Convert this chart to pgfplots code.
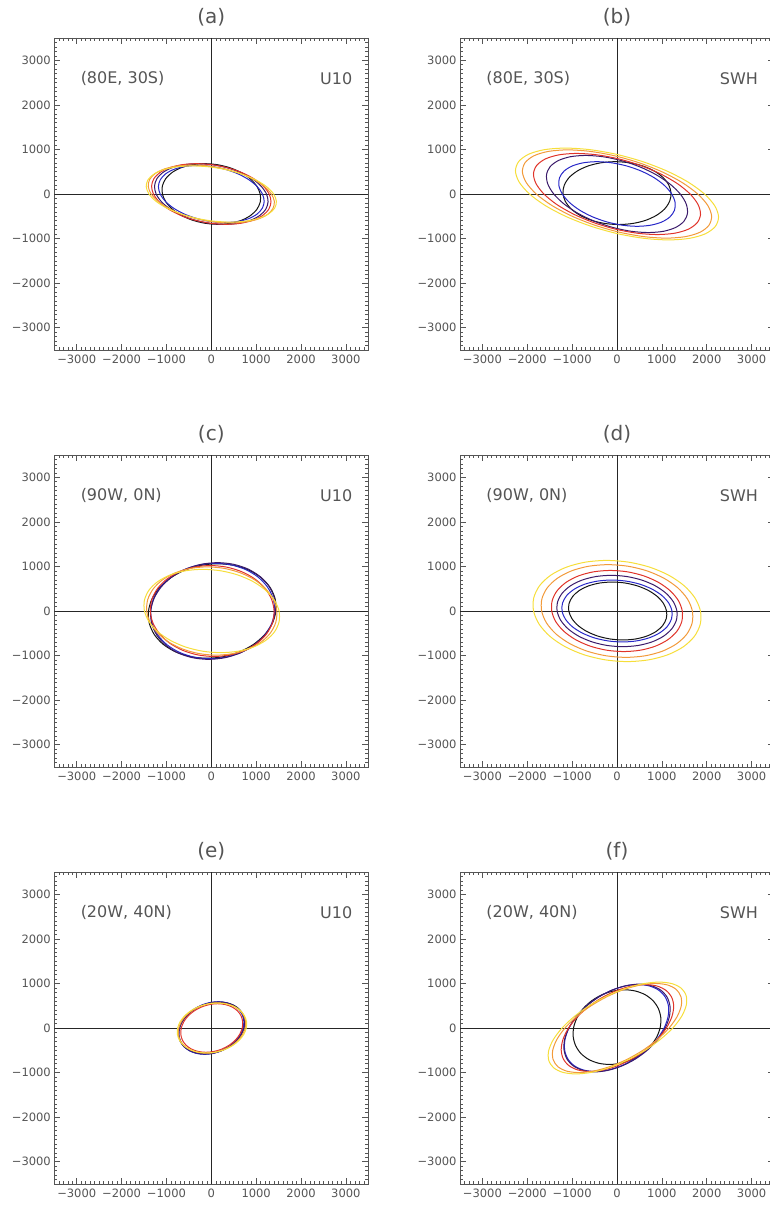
\documentclass[border=0pt]{standalone}
\usepackage{fontspec}
\setmainfont{DejaVu Sans}
\usepackage{pgfplots}
\pgfplotsset{compat=1.18}

\definecolor{gc}{HTML}{555555}
\definecolor{cblack}{HTML}{151515}
\definecolor{cblue}{HTML}{2828C8}
\definecolor{cpurple}{HTML}{3A1A6A}
\definecolor{cred}{HTML}{E0342A}
\definecolor{corange}{HTML}{F29A3A}
\definecolor{cyellow}{HTML}{F6DE3A}

\pgfplotsset{
  panel/.style={
    scale only axis, width=314pt, height=312pt,
    anchor=north west,
    xmin=-3500, xmax=3500, ymin=-3500, ymax=3500,
    xtick={-3000,-2000,...,3000}, ytick={-3000,-2000,...,3000},
    xticklabels={−3000,−2000,−1000,0,1000,2000,3000},
    yticklabels={−3000,−2000,−1000,0,1000,2000,3000},
    minor xtick={-3500,-3400,...,3500}, minor ytick={-3500,-3400,...,3500},
    tick align=inside, major tick length=6pt, minor tick length=3pt,
    tick style={gc, line width=0.5pt},
    axis line style={gc, line width=0.9pt},
    tick label style={font=\fontsize{11.5}{12}\selectfont, text=gc},
    xticklabel shift=1pt,
    title style={font=\fontsize{20}{22}\selectfont, text=gc, yshift=2pt},
  },
  ell/.style={smooth cycle, line width=1pt, mark=none},
  zero/.style={black!85, line width=0.7pt, mark=none, forget plot},
}
\newcommand\loc[1]{\node[anchor=west, text=gc, font=\fontsize{16}{18}\selectfont] at (rel axis cs:0.073,0.869) {#1};}
\newcommand\vname[1]{\node[anchor=east, text=gc, font=\fontsize{16}{18}\selectfont] at (rel axis cs:0.96,0.869) {#1};}
\newcommand\zerolines{%
  \addplot[zero] coordinates {(-3500,0) (3500,0)};
  \addplot[zero] coordinates {(0,-3500) (0,3500)};}

\begin{document}
\begin{tikzpicture}
% (a)
\begin{axis}[panel, at={(54.3pt,-38pt)}, title={(a)}]
\zerolines
\addplot[ell,cblack] coordinates {(1090,0)(1014,176)(869,340)(665,481)(415,589)(137,657)(-150,680)(-427,657)(-675,589)(-877,481)(-1019,340)(-1092,176)
 (-1090,0)(-1014,-176)(-869,-340)(-665,-481)(-415,-589)(-137,-657)(150,-680)(427,-657)(675,-589)(877,-481)(1019,-340)(1092,-176)};
\addplot[ell,cblue] coordinates {(1140,0)(1024,166)(837,320)(594,453)(310,554)(5,618)(-300,640)(-585,618)(-830,554)(-1018,453)(-1137,320)(-1179,166)
 (-1140,0)(-1024,-166)(-837,-320)(-594,-453)(-310,-554)(-5,-618)(300,-640)(585,-618)(830,-554)(1018,-453)(1137,-320)(1179,-166)};
\addplot[ell,cpurple] coordinates {(1230,0)(1110,176)(915,340)(658,481)(355,589)(29,657)(-300,680)(-608,657)(-875,589)(-1082,481)(-1215,340)(-1266,176)
 (-1230,0)(-1110,-176)(-915,-340)(-658,-481)(-355,-589)(-29,-657)(300,-680)(608,-657)(875,-589)(1082,-481)(1215,-340)(1266,-176)};
\addplot[ell,cred] coordinates {(1290,0)(1161,176)(952,340)(679,481)(359,589)(15,657)(-330,680)(-653,657)(-931,589)(-1146,481)(-1282,340)(-1331,176)
 (-1290,0)(-1161,-176)(-952,-340)(-679,-481)(-359,-589)(-15,-657)(330,-680)(653,-657)(931,-589)(1146,-481)(1282,-340)(1331,-176)};
\addplot[ell,corange] coordinates {(1340,0)(1183,168)(945,325)(643,460)(298,563)(-69,628)(-430,650)(-762,628)(-1042,563)(-1252,460)(-1375,325)(-1406,168)
 (-1340,0)(-1183,-168)(-945,-325)(-643,-460)(-298,-563)(69,-628)(430,-650)(762,-628)(1042,-563)(1252,-460)(1375,-325)(1406,-168)};
\addplot[ell,cyellow] coordinates {(1390,0)(1234,163)(994,315)(686,445)(331,546)(-46,609)(-420,630)(-765,609)(-1059,546)(-1280,445)(-1414,315)(-1451,163)
 (-1390,0)(-1234,-163)(-994,-315)(-686,-445)(-331,-546)(46,-609)(420,-630)(765,-609)(1059,-546)(1280,-445)(1414,-315)(1451,-163)};
\loc{(80E, 30S)}\vname{U10}
\end{axis}
% (b)
\begin{axis}[panel, at={(460pt,-38pt)}, title={(b)}]
\zerolines
\addplot[ell,cblack] coordinates {(1205,20)(1154,202)(1024,373)(824,519)(568,631)(273,701)(-40,725)(-351,701)(-638,631)(-880,519)(-1064,373)(-1174,202)
 (-1205,20)(-1154,-162)(-1024,-333)(-824,-479)(-568,-591)(-273,-661)(40,-685)(351,-661)(638,-591)(880,-479)(1064,-333)(1174,-162)};
\addplot[ell,cblue] coordinates {(1220,0)(1062,188)(832,363)(544,513)(220,628)(-119,700)(-450,725)(-750,700)(-1000,628)(-1181,513)(-1282,363)(-1295,188)
 (-1220,0)(-1062,-188)(-832,-363)(-544,-513)(-220,-628)(119,-700)(450,-725)(750,-700)(1000,-628)(1181,-513)(1282,-363)(1295,-188)};
\addplot[ell,cpurple] coordinates {(1410,0)(1181,224)(871,433)(502,612)(99,749)(-311,836)(-700,865)(-1041,836)(-1311,749)(-1492,612)(-1571,433)(-1543,224)
 (-1410,0)(-1181,-224)(-871,-433)(-502,-612)(-99,-749)(311,-836)(700,-865)(1041,-836)(1311,-749)(1492,-612)(1571,-433)(1543,-224)};
\addplot[ell,cred] coordinates {(1630,0)(1342,236)(962,455)(516,643)(36,788)(-448,879)(-900,910)(-1291,879)(-1594,788)(-1789,643)(-1862,455)(-1807,236)
 (-1630,0)(-1342,-236)(-962,-455)(-516,-643)(-36,-788)(448,-879)(900,-910)(1291,-879)(1594,-788)(1789,-643)(1862,-455)(1807,-236)};
\addplot[ell,corange] coordinates {(1800,0)(1454,256)(1009,495)(495,700)(-53,857)(-597,956)(-1100,990)(-1528,956)(-1853,857)(-2051,700)(-2109,495)(-2023,256)
 (-1800,0)(-1454,-256)(-1009,-495)(-495,-700)(53,-857)(597,-956)(1100,-990)(1528,-956)(1853,-857)(2051,-700)(2109,-495)(2023,-256)};
\addplot[ell,cyellow] coordinates {(1950,0)(1586,267)(1114,515)(566,728)(-21,892)(-606,995)(-1150,1030)(-1616,995)(-1971,892)(-2192,728)(-2264,515)(-2181,267)
 (-1950,0)(-1586,-267)(-1114,-515)(-566,-728)(21,-892)(606,-995)(1150,-1030)(1616,-995)(1971,-892)(2192,-728)(2264,-515)(2181,-267)};
\loc{(80E, 30S)}\vname{SWH}
\end{axis}
% (c)
\begin{axis}[panel, at={(54.3pt,-455pt)}, title={(c)}]
\zerolines
\addplot[ell,cblack] coordinates {(1440,0)(1423,274)(1310,530)(1109,750)(834,918)(503,1024)(140,1060)(-232,1024)(-586,918)(-899,750)(-1150,530)(-1321,274)
 (-1400,0)(-1383,-274)(-1270,-530)(-1069,-750)(-794,-918)(-463,-1024)(-100,-1060)(272,-1024)(626,-918)(939,-750)(1190,-530)(1361,-274)};
\addplot[ell,cblue] coordinates {(1410,0)(1378,277)(1255,535)(1048,757)(772,927)(445,1034)(90,1070)(-269,1034)(-608,927)(-903,757)(-1135,535)(-1287,277)
 (-1350,0)(-1318,-277)(-1195,-535)(-988,-757)(-712,-927)(-385,-1034)(-30,-1070)(329,-1034)(668,-927)(963,-757)(1195,-535)(1347,-277)};
\addplot[ell,cpurple] coordinates {(1430,0)(1409,281)(1294,543)(1094,767)(822,940)(496,1048)(140,1085)(-223,1048)(-568,940)(-872,767)(-1114,543)(-1277,281)
 (-1350,0)(-1329,-281)(-1214,-543)(-1014,-767)(-742,-940)(-416,-1048)(-60,-1085)(303,-1048)(648,-940)(952,-767)(1194,-543)(1357,-281)};
\addplot[ell,cred] coordinates {(1400,0)(1343,264)(1195,510)(968,721)(675,883)(339,985)(-20,1020)(-376,985)(-705,883)(-984,721)(-1195,510)(-1323,264)
 (-1360,0)(-1303,-264)(-1155,-510)(-928,-721)(-635,-883)(-299,-985)(60,-1020)(416,-985)(745,-883)(1024,-721)(1235,-510)(1363,-264)};
\addplot[ell,corange] coordinates {(1460,0)(1385,256)(1216,495)(965,700)(648,857)(289,956)(-90,990)(-462,956)(-802,857)(-1086,700)(-1296,495)(-1417,256)
 (-1440,0)(-1365,-256)(-1196,-495)(-945,-700)(-628,-857)(-269,-956)(110,-990)(482,-956)(822,-857)(1106,-700)(1316,-495)(1437,-256)};
\addplot[ell,cyellow] coordinates {(1510,0)(1407,242)(1209,468)(929,661)(587,810)(205,903)(-190,935)(-571,903)(-913,810)(-1192,661)(-1389,468)(-1491,242)
 (-1490,0)(-1387,-242)(-1189,-468)(-909,-661)(-567,-810)(-185,-903)(210,-935)(591,-903)(933,-810)(1212,-661)(1409,-468)(1511,-242)};
\loc{(90W, 0N)}\vname{U10}
\end{axis}
% (d)
\begin{axis}[panel, at={(460pt,-455pt)}, title={(d)}]
\zerolines
\addplot[ell,cblack] coordinates {(1105,0)(1037,168)(899,325)(701,460)(456,563)(181,628)(-105,650)(-383,628)(-634,563)(-841,460)(-989,325)(-1069,168)
 (-1075,0)(-1007,-168)(-869,-325)(-671,-460)(-426,-563)(-151,-628)(135,-650)(413,-628)(664,-563)(871,-460)(1019,-325)(1099,-168)};
\addplot[ell,cblue] coordinates {(1225,0)(1152,180)(1001,348)(781,491)(509,602)(201,671)(-120,695)(-433,671)(-717,602)(-951,491)(-1121,348)(-1214,180)
 (-1225,0)(-1152,-180)(-1001,-348)(-781,-491)(-509,-602)(-201,-671)(120,-695)(433,-671)(717,-602)(951,-491)(1121,-348)(1214,-180)};
\addplot[ell,cpurple] coordinates {(1335,0)(1256,207)(1091,400)(852,566)(555,693)(220,773)(-130,800)(-471,773)(-781,693)(-1036,566)(-1221,400)(-1323,207)
 (-1335,0)(-1256,-207)(-1091,-400)(-852,-566)(-555,-693)(-220,-773)(130,-800)(471,-773)(781,-693)(1036,-566)(1221,-400)(1323,-207)};
\addplot[ell,cred] coordinates {(1455,0)(1367,236)(1185,455)(923,643)(598,788)(232,879)(-150,910)(-522,879)(-858,788)(-1135,643)(-1335,455)(-1444,236)
 (-1455,0)(-1367,-236)(-1185,-455)(-923,-643)(-598,-788)(-232,-879)(150,-910)(522,-879)(858,-788)(1135,-643)(1335,-455)(1444,-236)};
\addplot[ell,corange] coordinates {(1680,0)(1571,269)(1355,520)(1047,735)(667,901)(242,1005)(-200,1040)(-628,1005)(-1013,901)(-1329,735)(-1555,520)(-1675,269)
 (-1680,0)(-1571,-269)(-1355,-520)(-1047,-735)(-667,-901)(-242,-1005)(200,-1040)(628,-1005)(1013,-901)(1329,-735)(1555,-520)(1675,-269)};
\addplot[ell,cyellow] coordinates {(1860,0)(1737,294)(1496,568)(1153,803)(731,983)(259,1096)(-230,1135)(-704,1096)(-1129,983)(-1478,803)(-1726,568)(-1856,294)
 (-1860,0)(-1737,-294)(-1496,-568)(-1153,-803)(-731,-983)(-259,-1096)(230,-1135)(704,-1096)(1129,-983)(1478,-803)(1726,-568)(1856,-294)};
\loc{(90W, 0N)}\vname{SWH}
\end{axis}
% (e)
\begin{axis}[panel, at={(54.3pt,-872pt)}, title={(e)}]
\zerolines
\addplot[ell,cblack] coordinates {(730,0)(747,151)(714,293)(632,414)(509,507)(351,565)(170,585)(-22,565)(-211,507)(-386,414)(-534,293)(-644,151)
 (-710,0)(-727,-151)(-694,-293)(-612,-414)(-489,-507)(-331,-565)(-150,-585)(42,-565)(231,-507)(406,-414)(554,-293)(664,-151)};
\addplot[ell,cblue] coordinates {(710,0)(725,153)(690,295)(608,417)(485,511)(329,570)(150,590)(-39,570)(-225,511)(-396,417)(-540,295)(-647,153)
 (-710,0)(-725,-153)(-690,-295)(-608,-417)(-485,-511)(-329,-570)(-150,-590)(39,-570)(225,-511)(396,-417)(540,-295)(647,-153)};
\addplot[ell,cpurple] coordinates {(730,0)(744,150)(709,290)(625,410)(500,502)(341,560)(160,580)(-31,560)(-220,502)(-393,410)(-539,290)(-647,150)
 (-710,0)(-724,-150)(-689,-290)(-605,-410)(-480,-502)(-321,-560)(-140,-580)(51,-560)(240,-502)(413,-410)(559,-290)(667,-150)};
\addplot[ell,cred] coordinates {(690,0)(700,141)(664,273)(583,385)(463,472)(312,526)(140,545)(-40,526)(-217,472)(-379,385)(-514,273)(-613,141)
 (-670,0)(-680,-141)(-644,-273)(-563,-385)(-443,-472)(-292,-526)(-120,-545)(60,-526)(237,-472)(399,-385)(534,-273)(633,-141)};
\addplot[ell,corange] coordinates {(755,0)(763,146)(721,283)(630,400)(498,489)(332,546)(145,565)(-51,546)(-242,489)(-416,400)(-561,283)(-666,146)
 (-725,0)(-733,-146)(-691,-283)(-600,-400)(-468,-489)(-302,-546)(-115,-565)(81,-546)(272,-489)(446,-400)(591,-283)(696,-146)};
\addplot[ell,cyellow] coordinates {(780,0)(785,145)(737,280)(641,396)(502,485)(329,541)(135,560)(-67,541)(-264,485)(-441,396)(-587,280)(-693,145)
 (-750,0)(-755,-145)(-707,-280)(-611,-396)(-472,-485)(-299,-541)(-105,-560)(97,-541)(294,-485)(471,-396)(617,-280)(723,-145)};
\loc{(20W, 40N)}\vname{U10}
\end{axis}
% (f)
\begin{axis}[panel, at={(460pt,-872pt)}, title={(f)}]
\zerolines
\addplot[ell,cblack] coordinates {(965,20)(976,237)(921,439)(803,613)(630,746)(414,829)(170,858)(-86,829)(-336,746)(-562,613)(-751,439)(-888,237)
 (-965,20)(-976,-197)(-921,-399)(-803,-573)(-630,-706)(-414,-789)(-170,-818)(86,-789)(336,-706)(562,-573)(751,-399)(888,-197)};
\addplot[ell,cblue] coordinates {(1050,0)(1138,252)(1148,488)(1079,689)(936,844)(728,942)(470,975)(179,942)(-124,844)(-420,689)(-688,488)(-910,252)
 (-1070,0)(-1158,-252)(-1168,-488)(-1099,-689)(-956,-844)(-748,-942)(-490,-975)(-199,-942)(104,-844)(400,-689)(668,-488)(890,-252)};
\addplot[ell,cpurple] coordinates {(1075,0)(1168,255)(1181,493)(1114,697)(971,853)(761,951)(500,985)(205,951)(-105,853)(-407,697)(-681,493)(-909,255)
 (-1075,0)(-1168,-255)(-1181,-493)(-1114,-697)(-971,-853)(-761,-951)(-500,-985)(-205,-951)(105,-853)(407,-697)(681,-493)(909,-255)};
\addplot[ell,cred] coordinates {(1100,0)(1223,252)(1264,488)(1219,689)(1092,844)(891,942)(630,975)(327,942)(2,844)(-322,689)(-624,488)(-882,252)
 (-1080,0)(-1203,-252)(-1244,-488)(-1199,-689)(-1072,-844)(-871,-942)(-610,-975)(-307,-942)(18,-844)(342,-689)(644,-488)(902,-252)};
\addplot[ell,corange] coordinates {(1160,0)(1342,259)(1433,500)(1425,707)(1320,866)(1126,966)(855,1000)(526,966)(160,866)(-216,707)(-577,500)(-899,259)
 (-1160,0)(-1342,-259)(-1433,-500)(-1425,-707)(-1320,-866)(-1126,-966)(-855,-1000)(-526,-966)(-160,-866)(216,-707)(577,-500)(899,-259)};
\addplot[ell,cyellow] coordinates {(1245,0)(1444,267)(1545,515)(1541,728)(1433,892)(1228,995)(940,1030)(589,995)(197,892)(-206,728)(-595,515)(-942,267)
 (-1225,0)(-1424,-267)(-1525,-515)(-1521,-728)(-1413,-892)(-1208,-995)(-920,-1030)(-569,-995)(-177,-892)(216,-728)(605,-515)(952,-267)};
\loc{(20W, 40N)}\vname{SWH}
\end{axis}
\pgfresetboundingbox
\useasboundingbox (0pt,0pt) rectangle (770pt,-1206pt);
\end{tikzpicture}
\end{document}
